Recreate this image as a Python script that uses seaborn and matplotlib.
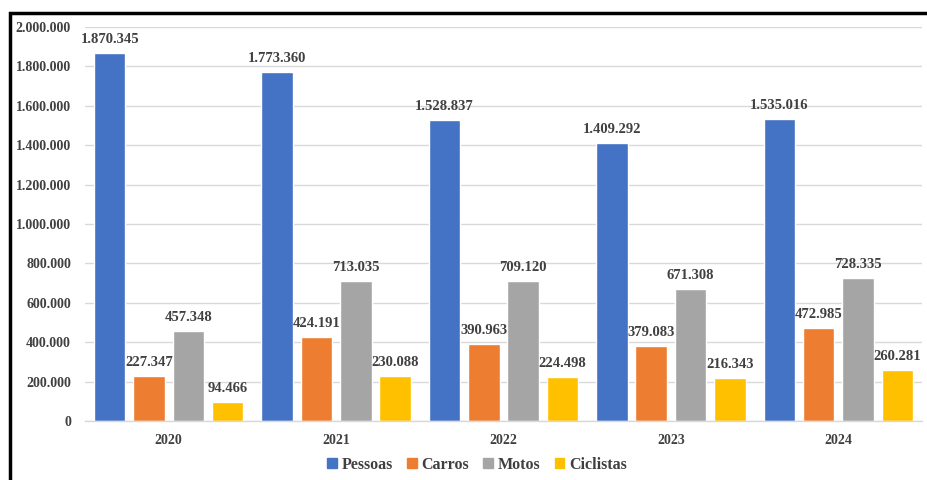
import matplotlib
matplotlib.use("Agg")
import matplotlib.pyplot as plt
import seaborn as sns
import pandas as pd
from matplotlib.patches import Rectangle, Patch
from matplotlib.font_manager import FontProperties

years = ["2020", "2021", "2022", "2023", "2024"]
series = ["Pessoas", "Carros", "Motos", "Ciclistas"]
pessoas = [1870345, 1773360, 1528837, 1409292, 1535016]
carros = [227347, 424191, 390963, 379083, 472985]
motos = [457348, 713035, 709120, 671308, 728335]
ciclistas = [94466, 230088, 224498, 216343, 260281]
colors = ["#4472C4", "#ED7D31", "#A5A5A5", "#FFC000"]
yticks = list(range(0, 2000001, 200000))

rows = []
for name, vals in zip(series, [pessoas, carros, motos, ciclistas]):
    for y, v in zip(years, vals):
        rows.append({"Ano": y, "Serie": name, "Valor": v})
df = pd.DataFrame(rows)

sns.set_theme(style="white")
FAM = ["Liberation Serif", "DejaVu Serif"]
plt.rcParams["font.family"] = FAM
plt.rcParams["font.weight"] = "bold"

def fmt(v):
    return f"{int(v):,}".replace(",", ".")

fig = plt.figure(figsize=(9.27, 4.8), dpi=100)
ax = fig.add_axes([85 / 927, 1 - 421 / 480, (922 - 85) / 927, (421 - 27) / 480])

sns.barplot(data=df, x="Ano", y="Valor", hue="Serie", order=years, hue_order=series,
            palette=colors, width=0.94, gap=0.2, saturation=1, ax=ax, legend=False)

ax.set_ylim(0, 2000000)
ax.set_xlim(-0.5, 4.5)
ax.set_yticks(yticks)
ax.set_yticklabels([fmt(t) for t in yticks])
ax.grid(axis="y", color="#D9D9D9", linewidth=1)
ax.set_axisbelow(True)
for s in ["top", "right", "left"]:
    ax.spines[s].set_visible(False)
ax.spines["bottom"].set_color("#D9D9D9")
ax.spines["bottom"].set_linewidth(1)
ax.set_xlabel("")
ax.set_ylabel("")
ax.tick_params(axis="both", length=0, labelsize=10, colors="#404040")
ax.tick_params(axis="x", pad=9)
ax.tick_params(axis="y", pad=10)
for lbl in ax.get_xticklabels() + ax.get_yticklabels():
    lbl.set_fontweight("bold")
    lbl.set_family(FAM)

for cont in ax.containers:
    for bar in cont:
        h = bar.get_height()
        ax.annotate(fmt(h), (bar.get_x() + bar.get_width() / 2, h),
                    xytext=(0, 5), textcoords="offset points",
                    ha="center", va="bottom", fontsize=10.5, fontweight="bold",
                    family=FAM, color="#404040")

legprop = FontProperties(family="Liberation Serif", weight="bold", size=11.5)
handles = [Patch(facecolor=c, edgecolor=c) for c in colors]
leg = fig.legend(handles, series, loc="center", bbox_to_anchor=(477 / 927, 1 - 465 / 480),
                 ncol=4, frameon=False, handlelength=0.6, handleheight=0.6,
                 handletextpad=0.3, columnspacing=0.9, prop=legprop,
                 labelcolor="#404040")

fig.patches.append(Rectangle((10 / 927, -0.1), 1.0, 1 - 13 / 480 + 0.1,
                             transform=fig.transFigure, fill=False,
                             edgecolor="black", linewidth=2.5, zorder=10))

fig.savefig("out.png", dpi=100)
